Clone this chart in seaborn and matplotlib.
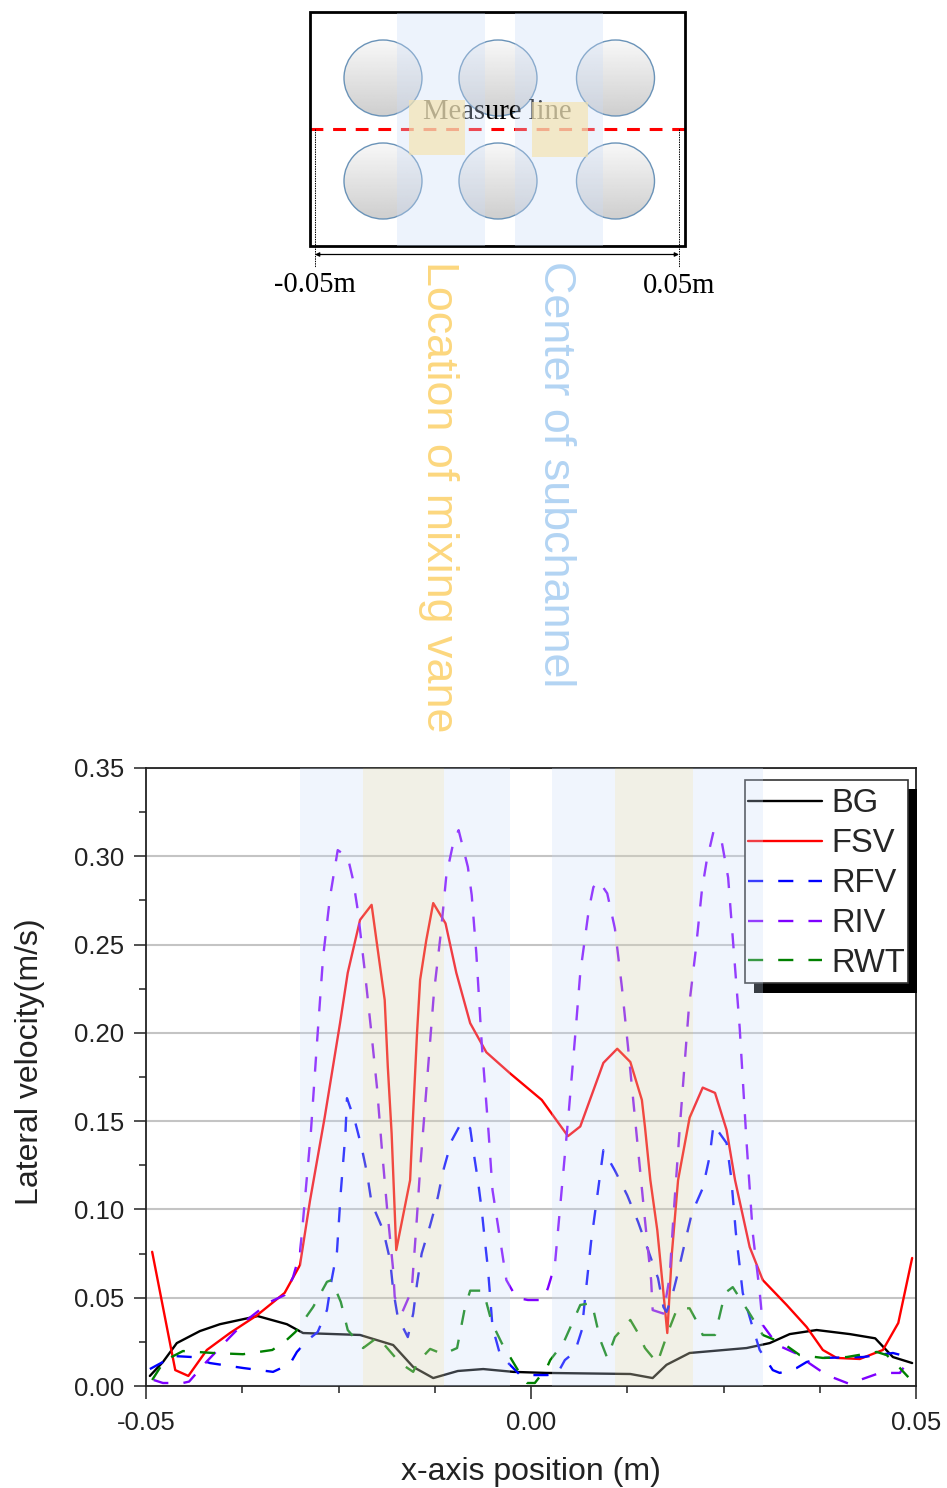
import matplotlib
matplotlib.use("Agg")
import matplotlib.pyplot as plt
import numpy as np
import seaborn as sns
from matplotlib.patches import Ellipse, Rectangle

bg_x = [-.0495, -.0478, -.046, -.043, -.0404, -.0355, -.0317, -.0296, -.0222, -.0179, -.0153, -.0127, -.0095, -.0062,
        -.0023, .002, .0129, .0158, .0176, .0206, .028, .031, .0336, .0371, .0414, .0447, .047, .0495]
bg_y = [.0057, .0136, .0243, .0311, .035, .0396, .035, .03, .0289, .0232, .0108, .0045, .0085, .0096,
        .008, .0074, .0068, .0045, .012, .0187, .0215, .0243, .0294, .0317, .0294, .027, .0164, .013]

fsv_x = [-.0492, -.0462, -.0445, -.0421, -.0391, -.0356, -.032, -.03, -.0287, -.0268, -.0248, -.0238, -.0222, -.0207,
         -.0199, -.019, -.0186, -.0181, -.0175, -.0157, -.0153, -.0148, -.0144, -.0136, -.0127, -.0111, -.0097, -.0079,
         -.0058, -.0027, .0014, .0048, .0064, .0094, .0112, .0129, .0144, .0148, .0155, .0164, .0172, .0177, .0183,
         .0191, .0206, .0223, .0239, .0254, .0265, .0284, .0301, .0332, .0358, .0379, .0397, .0427, .0457, .0477, .0495]
fsv_y = [.076, .009, .0057, .0204, .03, .04, .0527, .0685, .105, .152, .2055, .234, .264, .2725,
         .247, .2186, .181, .143, .077, .1166, .1546, .2, .23, .2525, .2735, .262, .234, .2055,
         .189, .177, .162, .1415, .147, .183, .191, .1835, .162, .1467, .1166, .0883, .0527, .03, .0753,
         .1166, .152, .169, .166, .145, .1166, .0787, .06, .0459, .0334, .0204, .0159, .0153, .0204, .0357, .0725]

rfv_x = [-.0495, -.0478, -.0465, -.044, -.0417, -.0374, -.0335, -.0313, -.0304, -.029, -.0277, -.0265, -.0259, -.0252,
         -.0247, -.0241, -.0239, -.0229, -.022, -.0213, -.0207, -.0192, -.0183, -.0179, -.0173, -.016, -.0153, -.0148,
         -.0142, -.0131, -.0121, -.0114, -.0103, -.009, -.0079, -.0075, -.0069, -.0064, -.006, -.0056, -.0053, -.005,
         -.004, -.0014, .0021, .0034, .0044, .0057, .0066, .007, .0078, .0088, .0094, .0109, .0125, .0139, .0152,
         .0165, .0172, .0176, .0183, .0191, .02, .0209, .0223, .0232, .0237, .0254, .026, .0266, .0275, .0286, .0297,
         .0314, .0323, .0345, .0358, .0379, .0431, .047, .0495]
rfv_y = [.0096, .0136, .017, .0164, .013, .0102, .008, .0125, .0193, .026, .0306, .043, .06, .076,
         .11, .143, .163, .1506, .1353, .1206, .1036, .0883, .0713, .0544, .039, .0277, .041, .058,
         .075, .091, .107, .122, .139, .1495, .146, .1336, .1166, .0997, .0827, .0668, .0504, .0334,
         .0175, .0062, .0062, .0068, .0147, .0193, .0317, .0487, .0815, .114, .1336, .122, .108, .093, .077,
         .061, .0447, .042, .0504, .0645, .0815, .098, .112, .13, .148, .1376, .118, .087, .0527, .036, .0204,
         .009, .0074, .0102, .0136, .0159, .0164, .0187, .0159]

riv_x = [-.049, -.0478, -.0452, -.0444, -.0423, -.0391, -.0369, -.0339, -.032, -.0309, -.03, -.0296, -.0286, -.0278,
         -.027, -.0261, -.0251, -.0238, -.0231, -.0225, -.0216, -.0208, -.02, -.0194, -.0187, -.0179, -.0177, -.0167,
         -.0155, -.0149, -.0144, -.0135, -.0126, -.0117, -.011, -.0101, -.0094, -.0082, -.0077, -.0071, -.0064, -.0055,
         -.005, -.0044, -.0038, -.0032, -.0019, -.0004, .0016, .0022, .0031, .0041, .0049, .0058, .0064, .0075, .0081,
         .0088, .0099, .0109, .0118, .0126, .0137, .0148, .0156, .0158, .0172, .018, .0185, .0193, .0205, .0214, .0222,
         .0228, .0237, .0248, .0256, .0262, .0271, .028, .0288, .0297, .0301, .032, .0349, .0359, .0384, .0414, .0427,
         .0453, .0479, .0488]
riv_y = [.0034, .0017, .0017, .0025, .013, .0277, .0374, .0476, .0515, .0617, .0753, .094, .143, .194,
         .243, .277, .3035, .2995, .2865, .2695, .2355, .203, .169, .136, .101, .0657, .0504, .042,
         .054, .09, .123, .173, .223, .257, .289, .3075, .3148, .294, .278, .245, .194, .143,
         .111, .094, .077, .06, .05, .0487, .0487, .0555, .0685, .1166, .155, .2016, .234, .2695, .2825,
         .286, .279, .259, .226, .192, .143, .094, .06, .043, .041, .0617, .096, .145, .214, .247, .281,
         .297, .314, .3075, .288, .254, .203, .1376, .0866, .0532, .0345, .0232, .0175, .0136, .0062, .0011, .0034,
         .0074, .0074, .013]

rwt_x = [-.0492, -.0478, -.0467, -.0452, -.0413, -.0374, -.0336, -.032, -.0306, -.0293, -.0283, -.0265, -.0259, -.0247,
         -.0238, -.0218, -.0199, -.017, -.0153, -.0147, -.0131, -.0114, -.0096, -.0086, -.0079, -.0062, -.0051, -.0038,
         -.0017, -.0005, .0005, .0021, .0025, .0042, .0057, .0064, .0079, .009, .0099, .0109, .0129, .0139, .0148, .0164,
         .0178, .019, .0206, .0216, .0223, .0239, .0252, .0262, .0284, .0301, .0327, .0349, .0379, .041, .0449, .0462,
         .0479, .049]
rwt_y = [.0034, .013, .0164, .0198, .0187, .018, .0204, .025, .0306, .0385, .0447, .059, .06, .0476,
         .0317, .0215, .0277, .013, .008, .0136, .021, .018, .0215, .044, .054, .054, .036, .0243,
         .009, .0017, .0017, .0108, .0147, .0243, .039, .0459, .047, .026, .0159, .0277, .0374, .03, .0215, .013,
         .0306, .044, .044, .036, .0289, .0289, .0527, .056, .041, .0289, .0243, .0175, .0159, .0164, .0193, .0175,
         .0102, .005]

series_names = ["BG", "FSV", "RFV", "RIV", "RWT"]
series_colors = ["black", "#ff0000", "#0000ff", "#7f00ff", "#008000"]
series_x = [bg_x, fsv_x, rfv_x, riv_x, rwt_x]
series_y = [bg_y, fsv_y, rfv_y, riv_y, rwt_y]
series_dashed = [False, False, True, True, True]

blue_spans = [(-.03, -.0218), (-.0113, -.0027), (.0027, .0109), (.021, .0301)]
tan_spans = [(-.0218, -.0113), (.0109, .021)]

# schematic, in pixels of the picture
circle_xs = [383, 498, 615.5]
circle_ys = [78, 181]
sch_blue = [(397, 485), (515, 603)]
sch_tan = [(409, 465, 100, 155), (532, 588, 102, 157)]

W, H = 947, 1488
sns.set_style("ticks")
plt.rcParams["font.family"] = ["Liberation Sans", "DejaVu Sans"]

fig = plt.figure(figsize=(W / 100, H / 100), dpi=100)
ax = fig.add_axes([146 / W, 1 - 1386 / H, 770 / W, 618 / H])

for name, color, xs, ys, dashed in zip(series_names, series_colors, series_x, series_y, series_dashed):
    ls = (0, (6.4, 6.4)) if dashed else "-"
    sns.lineplot(x=xs, y=ys, ax=ax, color=color, linewidth=1.7, linestyle=ls,
                 estimator=None, sort=False, label=name, zorder=2)

ax.set_xlim(-.05, .05)
ax.set_ylim(0, .35)
ax.set_xticks([-.05, 0, .05])
ax.set_xticklabels(["-0.05", "0.00", "0.05"])
ax.set_xticks(np.arange(-.05, .0501, .0125), minor=True)
ax.set_yticks(np.arange(0, .351, .05))
ax.set_yticklabels(["0.00", "0.05", "0.10", "0.15", "0.20", "0.25", "0.30", "0.35"])
ax.set_yticks(np.arange(0, .351, .025), minor=True)
ax.tick_params(which="major", length=9, width=1.1, labelsize=18.5, colors="#222222")
ax.tick_params(axis="x", which="major", pad=9)
ax.tick_params(axis="y", which="major", pad=7)
ax.tick_params(which="minor", length=5, width=1.1, colors="#222222")
ax.grid(axis="y", which="major", color="#c4c4c4", linewidth=1.5)
ax.set_axisbelow(True)
for s in ax.spines.values():
    s.set_color("#222222")
    s.set_linewidth(1.3)
ax.set_xlabel("x-axis position (m)", fontsize=23, color="#222222")
ax.set_ylabel("Lateral velocity(m/s)", fontsize=23, color="#222222")
ax.xaxis.set_label_coords(.5, -(1472 - 1386) / 618, transform=ax.transAxes)
ax.xaxis.label.set_va("center")
ax.yaxis.set_label_coords(-(146 - 30) / 770, (1386 - 1062) / 618, transform=ax.transAxes)
ax.yaxis.label.set_va("center")

# legend frame and its hard shadow are separate boxes, the bands lie over both
ax.add_patch(Rectangle((754 / W, 1 - 993 / H), 163 / W, 204 / H, transform=fig.transFigure, facecolor="black",
                       linewidth=0, zorder=4.5, clip_on=False))
ax.add_patch(Rectangle((745 / W, 1 - 983 / H), 163 / W, 203 / H, transform=fig.transFigure, facecolor="white",
                       edgecolor="#333333", linewidth=1.2, zorder=4.6, clip_on=False))
leg = ax.legend(loc="upper left", bbox_to_anchor=(748 / W, 1 - 788.5 / H), bbox_transform=fig.transFigure,
                fontsize=23.6, frameon=False, borderaxespad=0, borderpad=0, labelspacing=0.27,
                handlelength=2.26, handletextpad=0.27)

for a, b in blue_spans:
    ax.axvspan(a, b, color="#cbdcf8", alpha=.28, linewidth=0, zorder=6)
for a, b in tan_spans:
    ax.axvspan(a, b, color="#d7d4ba", alpha=.35, linewidth=0, zorder=6)

# schematic and the two vertical captions
top = fig.add_axes([0, 0, 1, 1], facecolor="none")
grad = np.linspace(.97, .81, 64).reshape(-1, 1)
for cy in circle_ys:
    for cx in circle_xs:
        im = top.imshow(grad, cmap="gray", vmin=0, vmax=1, aspect="auto", zorder=1,
                        extent=(cx - 39, cx + 39, cy + 38, cy - 38))
        clip = Ellipse((cx, cy), 78, 76, transform=top.transData)
        im.set_clip_path(clip)
        top.add_patch(Ellipse((cx, cy), 78, 76, facecolor="none", edgecolor="#6a93b8", linewidth=1, zorder=2))
top.set_xlim(0, W)
top.set_ylim(H, 0)
top.axis("off")

top.text(497, 112, "Measure line", family="Liberation Serif", fontsize=20.6, ha="center", va="center",
         color="black", zorder=3)
top.plot([310, 685], [129, 129], color="#ff0000", linewidth=2.2, linestyle=(0, (4.2, 3.2)), zorder=3)
for a, b in sch_blue:
    top.add_patch(Rectangle((a, 13), b - a, 233, facecolor="#cbdcf8", alpha=.33, linewidth=0, zorder=4))
for x0, x1, y0, y1 in sch_tan:
    top.add_patch(Rectangle((x0, y0), x1 - x0, y1 - y0, facecolor="#f5e3ad", alpha=.65, linewidth=0, zorder=5))
top.add_patch(Rectangle((310, 12), 375, 234, facecolor="none", edgecolor="black", linewidth=2, zorder=3))
for x in [315, 679]:
    top.plot([x, x], [129, 267], color="black", linewidth=.7, linestyle=(0, (1.5, 1)), zorder=3)
top.annotate("", xy=(679, 254.5), xytext=(315, 254.5),
             arrowprops=dict(arrowstyle="<|-|>", color="black", linewidth=.9, mutation_scale=6, shrinkA=0, shrinkB=0))
top.text(315, 285, "-0.05m", family="Liberation Serif", fontsize=20.6, ha="center", va="center", color="black")
top.text(679, 286, "0.05m", family="Liberation Serif", fontsize=20.6, ha="center", va="center", color="black")
top.text(438, 497, "Location of mixing vane", fontsize=32.3, rotation=-90, ha="center", va="center", color="#fcd77e")
top.text(555, 474, "Center of subchannel", fontsize=32.3, rotation=-90, ha="center", va="center", color="#b3d4f3")

fig.savefig("out.png", dpi=100)
